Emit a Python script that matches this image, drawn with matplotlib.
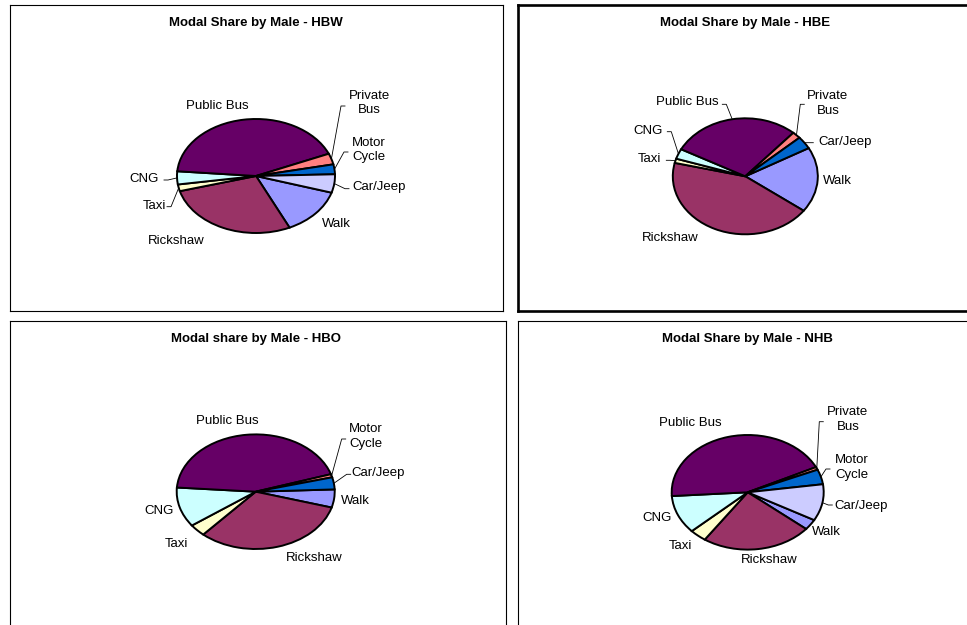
import numpy as np
import matplotlib.pyplot as plt

plt.rcParams['font.family'] = ['Liberation Sans', 'DejaVu Sans']

W, H = 967, 625

# default chart palette, handed out to the slices in series order
palette = ['#9999FF', '#993366', '#FFFFCC', '#CCFFFF', '#660066', '#FF8080', '#0066CC', '#CCCCFF']

# modal share (%) of male trips by purpose
hbw_modes = ['Walk', 'Rickshaw', 'Taxi', 'CNG', 'Public Bus', 'Private Bus', 'Motor Cycle', 'Car/Jeep']
hbw_share = [13.3, 27.7, 1.9, 3.7, 42.3, 3.1, 2.8, 5.2]

hbe_modes = ['Walk', 'Rickshaw', 'Taxi', 'CNG', 'Public Bus', 'Private Bus', 'Car/Jeep']
hbe_share = [18.2, 43.6, 1.2, 2.8, 28.8, 1.9, 3.5]

hbo_modes = ['Walk', 'Rickshaw', 'Taxi', 'CNG', 'Public Bus', 'Motor Cycle', 'Car/Jeep']
hbo_share = [5.1, 32.1, 3.4, 11.2, 43.9, 0.9, 3.4]

nhb_modes = ['Walk', 'Rickshaw', 'Taxi', 'CNG', 'Public Bus', 'Private Bus', 'Motor Cycle', 'Car/Jeep']
nhb_share = [3.0, 23.5, 3.6, 10.8, 43.8, 0.8, 4.2, 10.3]

names = {'Private Bus': 'Private\nBus', 'Motor Cycle': 'Motor\nCycle'}

# layout in pixels: frame (left, top, right, bottom), pie centre, semi-axes,
# angle of first slice; labels are (dx, dy, ha) from the centre, leaders are elbow points
panels = [
    dict(title='Modal Share by Male - HBW', modes=hbw_modes, share=hbw_share,
         frame=(10, 5, 503, 311), centre=(256, 176), radii=(79, 57), start=-17, edge=0.8,
         labels={'Public Bus': (-38.5, 70, 'center'), 'Private Bus': (93, 73, 'left'),
                 'Motor Cycle': (96, 26, 'left'), 'Car/Jeep': (96, -11, 'left'),
                 'Walk': (66, -48, 'left'), 'Rickshaw': (-80, -65, 'center'),
                 'Taxi': (-90, -30, 'right'), 'CNG': (-97, -3.5, 'right')},
         leaders={'Private Bus': (85, 70), 'Motor Cycle': (88, 24), 'Car/Jeep': (89, -12.7),
                  'CNG': (-88, -4), 'Taxi': (-85, -30.7)}),
    dict(title='Modal Share by Male - HBE', modes=hbe_modes, share=hbe_share,
         frame=(517.5, 5, 975, 311), centre=(745.3, 176.3), radii=(72.5, 58), start=29.1, edge=1.9,
         labels={'Public Bus': (-27, 74, 'right'), 'Private Bus': (62, 73, 'left'),
                 'Car/Jeep': (73, 34, 'left'), 'Walk': (78, -5, 'left'),
                 'Rickshaw': (-75, -62, 'center'), 'CNG': (-83, 45.5, 'right'),
                 'Taxi': (-84, 17, 'right')},
         leaders={'Public Bus': (-19, 72), 'Private Bus': (55, 72), 'Car/Jeep': (64, 33.6),
                  'CNG': (-74, 44.6), 'Taxi': (-75, 16)}),
    dict(title='Modal share by Male - HBO', modes=hbo_modes, share=hbo_share,
         frame=(10, 321, 505.5, 635), centre=(255.7, 491.7), radii=(79, 57.3), start=2.3, edge=0.8,
         labels={'Public Bus': (-28, 71, 'center'), 'Motor Cycle': (93.6, 55, 'left'),
                 'Car/Jeep': (96, 18.4, 'left'), 'Walk': (85, -9, 'left'),
                 'Rickshaw': (59, -66.6, 'center'), 'Taxi': (-79, -52, 'center'),
                 'CNG': (-82, -19.5, 'right')},
         leaders={'Motor Cycle': (86, 52.7), 'Car/Jeep': (91, 17.4)}),
    dict(title='Modal Share by Male - NHB', modes=nhb_modes, share=nhb_share,
         frame=(518, 321, 975, 635), centre=(747.7, 492.3), radii=(76, 57.3), start=-29, edge=0.8,
         labels={'Public Bus': (-57, 69, 'center'), 'Private Bus': (79.6, 72.6, 'left'),
                 'Motor Cycle': (87, 25, 'left'), 'Car/Jeep': (87, -13.5, 'left'),
                 'Walk': (64, -40, 'left'), 'Rickshaw': (21.6, -67.7, 'center'),
                 'Taxi': (-67.7, -53.5, 'center'), 'CNG': (-76, -26, 'right')},
         leaders={'Private Bus': (71.6, 70.6), 'Motor Cycle': (78.3, 23.3), 'Car/Jeep': (80.6, -12.7)}),
]

fig = plt.figure(figsize=(W / 100, H / 100), dpi=100)

for p in panels:
    l, t, r, b = p['frame']
    cx, cy = p['centre']
    ra, rb = p['radii']
    ax = fig.add_axes([l / W, 1 - b / H, (r - l) / W, (b - t) / H])
    wedges, _ = ax.pie(p['share'], colors=palette[:len(p['share'])], startangle=p['start'],
                       counterclock=False, wedgeprops=dict(edgecolor='black', linewidth=1.4))
    # squash the pie into an ellipse
    ax.set_aspect('auto')
    ax.set_xlim((l - cx) / ra, (r - cx) / ra)
    ax.set_ylim((cy - b) / rb, (cy - t) / rb)
    ax.set_frame_on(True)
    ax.set_xticks([])
    ax.set_yticks([])
    for s in ax.spines.values():
        s.set_linewidth(p['edge'])
        s.set_color('black')

    ax.text(0, (cy - t - 18) / rb, p['title'], ha='center', va='center',
            fontsize=9.5, fontweight='bold')

    for w, mode in zip(wedges, p['modes']):
        dx, dy, ha = p['labels'][mode]
        ax.text(dx / ra, dy / rb, names.get(mode, mode), ha=ha, va='center', fontsize=9.5,
                multialignment='center', linespacing=1.3)
        if mode in p['leaders']:
            ex, ey = p['leaders'][mode]
            mid = np.deg2rad((w.theta1 + w.theta2) / 2)
            sx = ex + (4 if dx > ex else -4)
            ax.plot([np.cos(mid), ex / ra, sx / ra], [np.sin(mid), ey / rb, ey / rb],
                    color='black', lw=0.6)

fig.savefig('out.png', dpi=100)
